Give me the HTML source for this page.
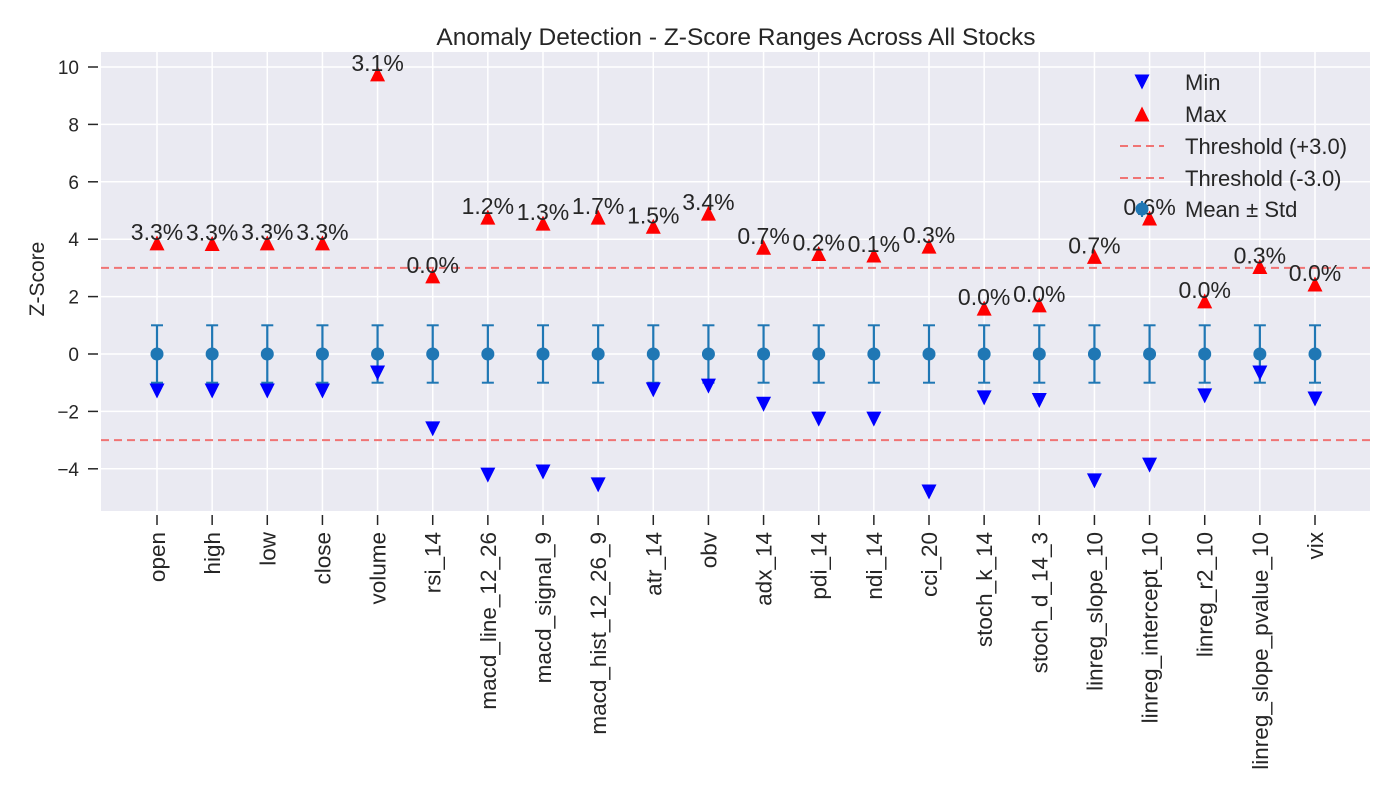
<!DOCTYPE html>
<html><head><meta charset="utf-8"><style>
body{margin:0;background:#fff;font-family:"Liberation Sans",sans-serif;}
svg text{font-family:"Liberation Sans",sans-serif;fill:#262626;}
</style></head><body>
<svg id="chart" width="1400" height="800"></svg>
<script>
const categories=["open","high","low","close","volume","rsi_14","macd_line_12_26","macd_signal_9","macd_hist_12_26_9","atr_14","obv","adx_14","pdi_14","ndi_14","cci_20","stoch_k_14","stoch_d_14_3","linreg_slope_10","linreg_intercept_10","linreg_r2_10","linreg_slope_pvalue_10","vix"];
const maxVals=[3.87,3.85,3.87,3.87,9.76,2.72,4.77,4.56,4.77,4.45,4.91,3.72,3.50,3.45,3.76,1.60,1.71,3.40,4.74,1.85,3.05,2.44];
const minVals=[-1.29,-1.29,-1.29,-1.29,-0.66,-2.61,-4.22,-4.11,-4.56,-1.25,-1.12,-1.75,-2.27,-2.27,-4.81,-1.53,-1.62,-4.42,-3.87,-1.46,-0.66,-1.57];
const meanVals=[0,0,0,0,0,0,0,0,0,0,0,0,0,0,0,0,0,0,0,0,0,0];
const stdVals=[1,1,1,1,1,1,1,1,1,1,1,1,1,1,1,1,1,1,1,1,1,1];
const pctLabels=["3.3%","3.3%","3.3%","3.3%","3.1%","0.0%","1.2%","1.3%","1.7%","1.5%","3.4%","0.7%","0.2%","0.1%","0.3%","0.0%","0.0%","0.7%","0.6%","0.0%","0.3%","0.0%"];
const yTicks=[-4,-2,0,2,4,6,8,10];
const yTickLabels=["\u22124","\u22122","0","2","4","6","8","10"];
const thresholds=[3,-3];

const svg=document.getElementById('chart');
const NS='http://www.w3.org/2000/svg';
const L=101,R=1370,T=52,B=511;
const x=i=>157+i*(1315-157)/(categories.length-1);
const y=v=>354-v*28.7;
function mk(tag,attrs,parent){const e=document.createElementNS(NS,tag);for(const k in attrs)e.setAttribute(k,attrs[k]);(parent||svg).appendChild(e);return e;}

const bg=mk('rect',{x:L,y:T,width:R-L,height:B-T,fill:'#eaeaf2'});


yTicks.forEach((t,k)=>{
  const g=mk('line',{x1:L,x2:R,y1:y(t),y2:y(t),stroke:'#fff','stroke-width':1.5});
  
  
  const tk=mk('line',{x1:88,x2:98,y1:y(t),y2:y(t),stroke:'#262626','stroke-width':1.5});
  
  
  const tx=mk('text',{x:79,y:y(t)+7,'text-anchor':'end','font-size':19});
  tx.textContent=yTickLabels[k];
  
  
});
categories.forEach((c,i)=>{
  const g=mk('line',{x1:x(i),x2:x(i),y1:T,y2:B,stroke:'#fff','stroke-width':1.5});
  
  
  const tk=mk('line',{x1:x(i),x2:x(i),y1:515,y2:525,stroke:'#262626','stroke-width':1.5});
  
  
  const tx=mk('text',{x:0,y:0,'text-anchor':'end','font-size':22.5,transform:`translate(${x(i)+8},532) rotate(-90)`});
  tx.textContent=c;
  
  
});
thresholds.forEach(t=>{
  const l=mk('line',{x1:L,x2:R,y1:y(t),y2:y(t),stroke:'#f07474','stroke-width':2,'stroke-dasharray':'8,5'});
  
  
});
function tri(cx,cy,down,col){const s=7.5;const p=down?`${cx-s},${cy-s} ${cx+s},${cy-s} ${cx},${cy+s}`:`${cx-s},${cy+s} ${cx+s},${cy+s} ${cx},${cy-s}`;return mk('polygon',{points:p,fill:col});}
categories.forEach((c,i)=>{
  const cx=x(i);
  const e=mk('line',{x1:cx,x2:cx,y1:y(meanVals[i]+stdVals[i]),y2:y(meanVals[i]-stdVals[i]),stroke:'#1f77b4','stroke-width':2.2});
  
  
  [meanVals[i]+stdVals[i],meanVals[i]-stdVals[i]].forEach(v=>{
    const cap=mk('line',{x1:cx-6,x2:cx+6,y1:y(v),y2:y(v),stroke:'#1f77b4','stroke-width':2});
    
    
  });
  const m=mk('circle',{cx:cx,cy:y(meanVals[i]),r:6.5,fill:'#1f77b4'});
  
  
  const mn=tri(cx,y(minVals[i]),true,'#0000ff');
  
  
  const mx=tri(cx,y(maxVals[i]),false,'#ff0000');
  
  
  const pl=mk('text',{x:cx,y:y(maxVals[i])-3,'text-anchor':'middle','font-size':23});
  pl.textContent=pctLabels[i];
  
  
});
const title=mk('text',{x:736,y:45,'text-anchor':'middle','font-size':24.5});
title.textContent='Anomaly Detection - Z-Score Ranges Across All Stocks';


const yl=mk('text',{x:0,y:0,'text-anchor':'middle','font-size':21,transform:'translate(44,279) rotate(-90)'});
yl.textContent='Z-Score';


// legend
const lg=[[82,'Min'],[114,'Max'],[146,'Threshold (+3.0)'],[178,'Threshold (-3.0)'],[209,'Mean ± Std']];
lg.forEach(([ly,lab],k)=>{
  let m;
  if(k===0)m=tri(1142,ly,true,'#0000ff');
  else if(k===1)m=tri(1142,ly,false,'#ff0000');
  else if(k<4)m=mk('line',{x1:1120,x2:1164,y1:ly,y2:ly,stroke:'#f07474','stroke-width':2,'stroke-dasharray':'8,5'});
  else{m=mk('g',{});mk('line',{x1:1142,x2:1142,y1:ly-8,y2:ly+8,stroke:'#1f77b4','stroke-width':2},m);mk('circle',{cx:1142,cy:ly,r:6.5,fill:'#1f77b4'},m);}
  
  
  const t=mk('text',{x:1185,y:ly+8,'font-size':22});
  t.textContent=lab;
  
  
});
</script>
</body></html>
